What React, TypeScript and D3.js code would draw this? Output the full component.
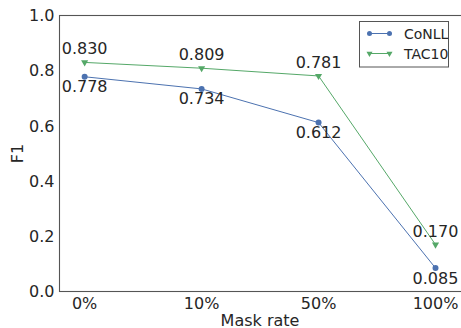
import React, { useEffect, useRef } from 'react';
import * as d3 from 'd3';

const categories = ['0%', '10%', '50%', '100%'];
const conll = [0.778, 0.734, 0.612, 0.085];
const tac10 = [0.83, 0.809, 0.781, 0.17];
const yTicks = [0.0, 0.2, 0.4, 0.6, 0.8, 1.0];

const width = 461;
const height = 328;
const margin = { top: 15.5, right: -2, bottom: 36.5, left: 59.5 };

const blue = '#4C72B0';
const green = '#55A868';
const textColor = '#262626';
const font = '"DejaVu Sans", sans-serif';

export default function App() {
  const ref = useRef<SVGSVGElement>(null);

  useEffect(() => {
    const svg = d3.select(ref.current);
    svg.selectAll('*').remove();

    const x = d3
      .scaleLinear()
      .domain([-0.215, 3.235])
      .range([margin.left, width - margin.right]);
    const y = d3
      .scaleLinear()
      .domain([0, 1])
      .range([height - margin.bottom, margin.top]);

    // frame
    svg
      .append('rect')
      .attr('x', margin.left)
      .attr('y', margin.top)
      .attr('width', width - margin.right - margin.left)
      .attr('height', height - margin.bottom - margin.top)
      .attr('fill', 'none')
      .attr('stroke', '#555555')
      .attr('stroke-width', 1.1);

    // y tick labels
    svg
      .selectAll('.ytick')
      .data(yTicks)
      .enter()
      .append('text')
      .attr('x', margin.left - 5)
      .attr('y', (d) => y(d))
      .attr('dy', '0.36em')
      .attr('text-anchor', 'end')
      .attr('font-size', 16)
      .attr('fill', textColor)
      .text((d) => d.toFixed(1));

    // x tick labels
    svg
      .selectAll('.xtick')
      .data(categories)
      .enter()
      .append('text')
      .attr('x', (_, i) => x(i))
      .attr('y', height - margin.bottom + 12)
      .attr('dy', '0.36em')
      .attr('text-anchor', 'middle')
      .attr('font-size', 16)
      .attr('fill', textColor)
      .text((d) => d);

    // axis labels
    svg
      .append('text')
      .attr('x', 260)
      .attr('y', 326)
      .attr('text-anchor', 'middle')
      .attr('font-size', 16)
      .attr('fill', textColor)
      .text('Mask rate');

    svg
      .append('text')
      .attr('transform', `translate(23, ${(margin.top + height - margin.bottom) / 2}) rotate(-90)`)
      .attr('text-anchor', 'middle')
      .attr('font-size', 16)
      .attr('fill', textColor)
      .text('F1');

    const line = d3
      .line<number>()
      .x((_, i) => x(i))
      .y((d) => y(d));

    const series = [
      { name: 'CoNLL', values: conll, color: blue, marker: 'circle', above: false },
      { name: 'TAC10', values: tac10, color: green, marker: 'tri', above: true },
    ];

    const tri = d3.symbol().type(d3.symbolTriangle).size(22);

    series.forEach((s) => {
      svg
        .append('path')
        .attr('d', line(s.values))
        .attr('fill', 'none')
        .attr('stroke', s.color)
        .attr('stroke-width', 1);

      const pts = svg
        .selectAll(null)
        .data(s.values)
        .enter();

      if (s.marker === 'circle') {
        pts
          .append('circle')
          .attr('cx', (_, i) => x(i))
          .attr('cy', (d) => y(d))
          .attr('r', 3)
          .attr('fill', s.color);
      } else {
        pts
          .append('path')
          .attr('d', tri)
          .attr('transform', (d, i) => `translate(${x(i)}, ${y(d)}) rotate(180)`)
          .attr('fill', s.color);
      }

      pts
        .append('text')
        .attr('x', (_, i) => x(i))
        .attr('y', (d) => (s.above ? y(d) - 8 : y(d) + 15.5))
        .attr('text-anchor', 'middle')
        .attr('font-size', 16)
        .attr('fill', textColor)
        .text((d) => d.toFixed(3));
    });

    // legend
    const lg = svg.append('g').attr('transform', 'translate(359.5, 21.5)');
    lg.append('rect')
      .attr('width', 89)
      .attr('height', 45.5)
      .attr('fill', 'white')
      .attr('stroke', '#555555')
      .attr('stroke-width', 1);

    series.forEach((s, i) => {
      const cy = 12 + i * 20;
      lg.append('line')
        .attr('x1', 10)
        .attr('x2', 30)
        .attr('y1', cy)
        .attr('y2', cy)
        .attr('stroke', s.color)
        .attr('stroke-width', 1);
      [10, 30].forEach((px) => {
        if (s.marker === 'circle') {
          lg.append('circle').attr('cx', px).attr('cy', cy).attr('r', 2.5).attr('fill', s.color);
        } else {
          lg.append('path')
            .attr('d', d3.symbol().type(d3.symbolTriangle).size(16))
            .attr('transform', `translate(${px}, ${cy}) rotate(180)`)
            .attr('fill', s.color);
        }
      });
      lg.append('text')
        .attr('x', 44.5)
        .attr('y', cy)
        .attr('dy', '0.36em')
        .attr('font-size', 14)
        .attr('fill', textColor)
        .text(s.name);
    });
  }, []);

  return (
    <svg
      ref={ref}
      width={width}
      height={height}
      style={{ position: 'fixed', left: 0, top: 0, fontFamily: font, background: 'white' }}
    />
  );
}
